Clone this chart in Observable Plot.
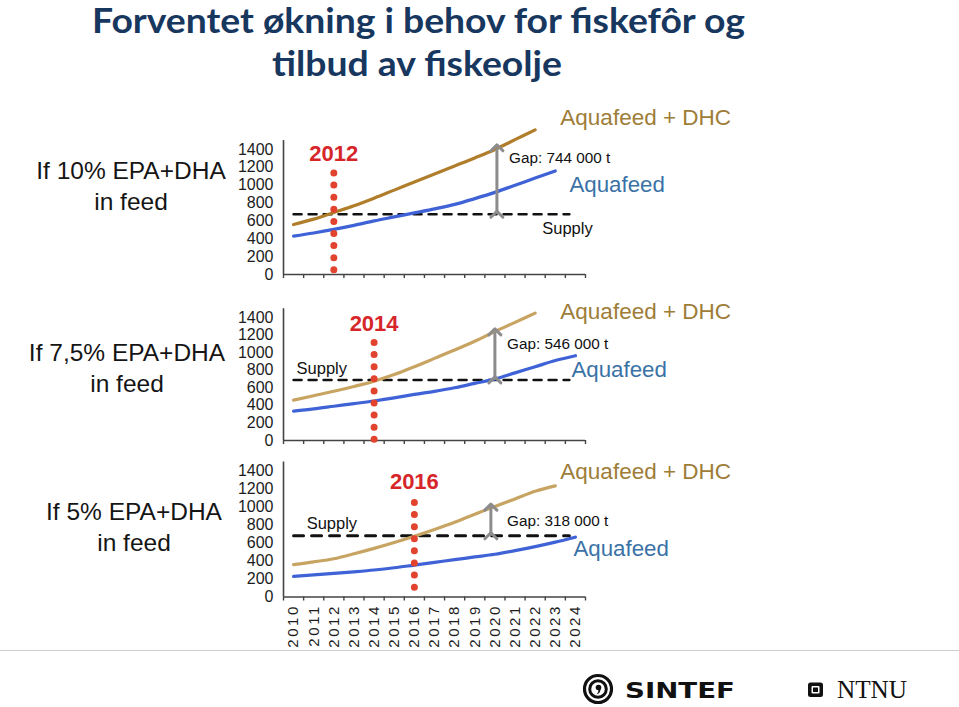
<!DOCTYPE html>
<html>
<head>
<meta charset="utf-8">
<script src="https://cdn.jsdelivr.net/npm/d3@7"></script>
<script src="https://cdn.jsdelivr.net/npm/@observablehq/plot@0.6"></script>
<style>
  html, body { margin: 0; padding: 0; background: #fff; }
  #root { position: relative; width: 959px; height: 707px; overflow: hidden; }
  #deco { position: absolute; left: 0; top: 0; }
  .panel { position: absolute; left: 0; }
</style>
</head>
<body>
<div id="root">
  <svg id="deco" width="959" height="707"></svg>
</div>
<script>
// ---------------- DATA ----------------
const titleLines = ["Forventet økning i behov for fiskefôr og", "tilbud av fiskeolje"];
const years = [2010, 2011, 2012, 2013, 2014, 2015, 2016, 2017, 2018, 2019, 2020, 2021, 2022, 2023, 2024];
const yTicks = [0, 200, 400, 600, 800, 1000, 1200, 1400];
const scenarioLabels = ["If 10% EPA+DHA", "If 7,5% EPA+DHA", "If 5% EPA+DHA"];
const scenarioSub = ["in feed", "in feed", "in feed"];
const seriesNames = ["Aquafeed + DHC", "Aquafeed", "Supply"];

// demand, thousand tonnes, starting 2010
const dhc10  = [560, 620, 695, 770, 855, 945, 1035, 1125, 1215, 1305, 1400, 1510, 1620];
const aqua10 = [430, 465, 505, 550, 600, 645, 690, 735, 785, 850, 920, 1000, 1080, 1160];
const dhc75  = [460, 510, 560, 615, 675, 750, 840, 935, 1030, 1130, 1240, 1345, 1450];
const aqua75 = [335, 360, 390, 420, 450, 485, 525, 560, 600, 650, 700, 770, 840, 910, 965];
const dhc5   = [360, 390, 425, 480, 540, 605, 675, 750, 830, 920, 1005, 1090, 1175, 1235];
const aqua5  = [230, 245, 262, 280, 300, 325, 355, 385, 415, 445, 475, 515, 560, 610, 665];

const supplyKt = [675, 690, 680];
const supplyYears = [2010, 2023.7];
const milestoneYears = [2012, 2014, 2016];
const milestoneTop = [1131, 1110, 1045];
const milestoneBottom = [40, 0, 90];
const gapKt = [744, 546, 318];
const gapLabels = ["Gap: 744 000 t", "Gap: 546 000 t", "Gap: 318 000 t"];
const gapYear = [2020.1, 2020.0, 2019.8];

const dhcSeries = [dhc10, dhc75, dhc5];
const aquaSeries = [aqua10, aqua75, aqua5];

// ---------------- LAYOUT / STYLE ----------------
const layout = [
  { top: 95,  height: 200, zero: 179,   px1400: 125, dhcColor: "#b07d2b", dash: "8 7",  supplyW: 2.5,
    dhcLab: [2023.25, 1758], aquaLab: [2023.7, 1008], supLab: [2022.35, 515], gapLab: [2020.7, 1299], msLab: 1355,
    side: { x: 131, y1: 179, y2: 210 } },
  { top: 295, height: 160, zero: 145,   px1400: 123, dhcColor: "#c8a463", dash: "8 7",  supplyW: 2.5,
    dhcLab: [2023.25, 1468], aquaLab: [2023.8, 808],  supLab: [2010.15, 820], gapLab: [2020.6, 1093], msLab: 1332,
    side: { x: 127, y1: 361, y2: 392 } },
  { top: 455, height: 195, zero: 141.5, px1400: 126, dhcColor: "#c8a463", dash: "10 8", supplyW: 3,
    dhcLab: [2023.25, 1389], aquaLab: [2023.9, 538],  supLab: [2010.65, 814], gapLab: [2020.6, 848], msLab: 1280,
    side: { x: 134, y1: 520, y2: 551 } }
];
const blue = "#3f63d6";
const blueText = "#3a72a6";
const dhcText = "#9e7d38";
const red = "#e1432e";
const redText = "#d6262a";
const fontFamily = "'Liberation Sans', Arial, sans-serif";

const root = document.getElementById("root");
const bounds = d3.range(16).map(i => 2009.5 + i);

layout.forEach((L, i) => {
  const dhc = dhcSeries[i].map((v, j) => ({ year: years[j], value: v }));
  const aqua = aquaSeries[i].map((v, j) => ({ year: years[j], value: v }));
  const supply = supplyYears.map(y => ({ year: y, value: supplyKt[i] }));
  const gap = [{ year: gapYear[i], from: supplyKt[i], to: supplyKt[i] + gapKt[i] }];
  const ms = [{ year: milestoneYears[i], top: milestoneTop[i], bottom: milestoneBottom[i] }];
  const isLast = i === layout.length - 1;

  const marks = [
    Plot.ruleX([2009.5], { y1: 0, y2: 1500, stroke: "#444", strokeWidth: 1.6 }),
    Plot.ruleY([0], { x1: 2009.5, x2: 2024.5, stroke: "#444", strokeWidth: 1.6 }),
    Plot.axisX(bounds, { tickSize: 4, tickFormat: () => "", label: null, stroke: "#444", strokeWidth: 1.4 }),
    Plot.axisY(yTicks, { tickSize: 0, tickPadding: 10, fontSize: 16, fill: "#1c1c1c", label: null, tickFormat: d => String(d) }),
    Plot.line(supply, { x: "year", y: "value", stroke: "#111", strokeWidth: L.supplyW, strokeDasharray: L.dash }),
    Plot.line(dhc, { x: "year", y: "value", stroke: L.dhcColor, strokeWidth: 3.2, curve: "monotone-x" }),
    Plot.line(aqua, { x: "year", y: "value", stroke: blue, strokeWidth: 3.2, curve: "monotone-x" }),
    Plot.ruleX(ms, { x: "year", y1: "top", y2: "bottom", stroke: red, strokeWidth: 7, strokeDasharray: "0 12.1", strokeLinecap: "round" }),
    Plot.link(gap, { x1: "year", x2: "year", y1: "from", y2: "to", stroke: "#8c8c8c", strokeWidth: 3, markerStart: "arrow", markerEnd: "arrow" }),
    Plot.text([String(milestoneYears[i])], { x: milestoneYears[i], y: L.msLab, text: d => d, fill: redText, fontSize: 22, fontWeight: "bold", textAnchor: "middle", lineAnchor: "middle" }),
    Plot.text([gapLabels[i]], { x: L.gapLab[0], y: L.gapLab[1], text: d => d, fill: "#111", fontSize: 15.3, textAnchor: "start", lineAnchor: "middle" }),
    Plot.text([seriesNames[0]], { x: L.dhcLab[0], y: L.dhcLab[1], text: d => d, fill: dhcText, fontSize: 22.5, textAnchor: "start", lineAnchor: "middle" }),
    Plot.text([seriesNames[1]], { x: L.aquaLab[0], y: L.aquaLab[1], text: d => d, fill: blueText, fontSize: 22.3, textAnchor: "start", lineAnchor: "middle" }),
    Plot.text([seriesNames[2]], { x: L.supLab[0], y: L.supLab[1], text: d => d, fill: "#111", fontSize: 16.5, textAnchor: "start", lineAnchor: "middle" })
  ];
  if (isLast) {
    marks.push(Plot.text(years, { x: d => d, y: 0, text: d => String(d), rotate: -90, dy: 7, textAnchor: "end", lineAnchor: "middle", fontSize: 15, fill: "#1c1c1c" }));
  }

  const chart = Plot.plot({
    width: 959,
    height: L.height,
    marginLeft: 283,
    marginRight: 374,
    marginTop: L.zero - 1500 * L.px1400 / 1400,
    marginBottom: L.height - L.zero,
    x: { domain: [2009.5, 2024.5] },
    y: { domain: [0, 1500] },
    style: { fontFamily, background: "transparent" },
    marks
  });
  chart.classList.add("panel");
  chart.style.top = L.top + "px";
  root.appendChild(chart);
  if (isLast) {
    chart.querySelectorAll("text").forEach(t => {
      const tr = t.getAttribute("transform") || "";
      if (tr.includes("rotate")) t.setAttribute("letter-spacing", "2.6");
    });
  }
});

// ---------------- DECORATION: title, side labels, footer ----------------
const deco = d3.select("#deco");
deco.append("text").attr("x", 92).attr("y", 33).attr("textLength", 653).attr("lengthAdjust", "spacingAndGlyphs")
  .style("font-family", "Lato, 'Open Sans', sans-serif").style("font-weight", "bold").style("font-size", "34.5px").attr("fill", "#17375f")
  .text(titleLines[0]);
deco.append("text").attr("x", 272).attr("y", 76).attr("textLength", 290).attr("lengthAdjust", "spacingAndGlyphs")
  .style("font-family", "Lato, 'Open Sans', sans-serif").style("font-weight", "bold").style("font-size", "34.5px").attr("fill", "#17375f")
  .text(titleLines[1]);

layout.forEach((L, i) => {
  deco.append("text").attr("x", L.side.x).attr("y", L.side.y1).attr("text-anchor", "middle")
    .style("font-family", fontFamily).style("font-size", "24.5px").attr("fill", "#151515").text(scenarioLabels[i]);
  deco.append("text").attr("x", L.side.x).attr("y", L.side.y2).attr("text-anchor", "middle")
    .style("font-family", fontFamily).style("font-size", "24.5px").attr("fill", "#151515").text(scenarioSub[i]);
});

// footer separator and logos
deco.append("line").attr("x1", 0).attr("x2", 959).attr("y1", 650.5).attr("y2", 650.5).attr("stroke", "#cfcfcf").attr("stroke-width", 1);
const sintef = deco.append("g").attr("transform", "translate(598,689)");
sintef.append("circle").attr("r", 13.5).attr("fill", "none").attr("stroke", "#111").attr("stroke-width", 3.2);
sintef.append("circle").attr("r", 8.3).attr("fill", "none").attr("stroke", "#111").attr("stroke-width", 3);
sintef.append("circle").attr("cx", 0.5).attr("cy", -1.5).attr("r", 2.8).attr("fill", "#111");
sintef.append("path").attr("d", "M2.6,-1 Q3,4 -1.5,5.5 Q1,2.5 0.5,0 Z").attr("fill", "#111");
deco.append("text").attr("x", 625).attr("y", 697.5).attr("textLength", 110).attr("lengthAdjust", "spacingAndGlyphs")
  .style("font-family", "'DejaVu Sans', sans-serif").style("font-weight", "bold").style("font-size", "21.5px").attr("fill", "#111").text("SINTEF");
const ntnu = deco.append("g").attr("transform", "translate(808,682.5)");
ntnu.append("rect").attr("width", 15).attr("height", 14.5).attr("rx", 2.5).attr("fill", "#111");
ntnu.append("rect").attr("x", 3.5).attr("y", 3.5).attr("width", 8).attr("height", 7.5).attr("rx", 1).attr("fill", "#fff");
ntnu.append("rect").attr("x", 5).attr("y", 5).attr("width", 5).attr("height", 4.5).attr("fill", "#111");
deco.append("text").attr("x", 837).attr("y", 697.5).attr("textLength", 70).attr("lengthAdjust", "spacingAndGlyphs")
  .style("font-family", "'Liberation Serif', serif").style("font-size", "24.6px").attr("fill", "#111").text("NTNU");
</script>
</body>
</html>
